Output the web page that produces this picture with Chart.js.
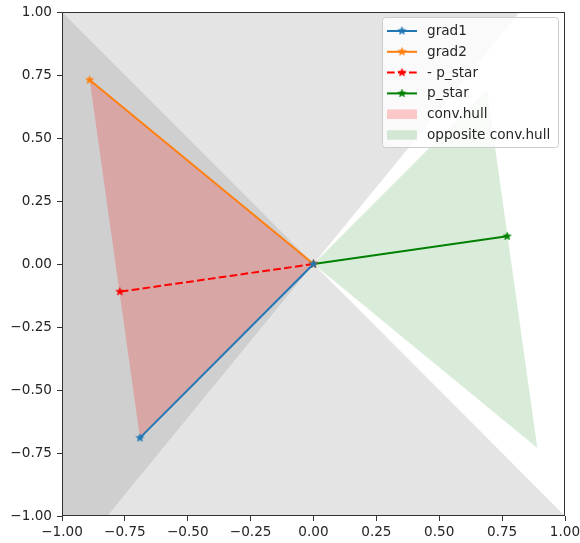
<!DOCTYPE html>
<html>
<head>
<meta charset="utf-8">
<script src="https://cdn.jsdelivr.net/npm/chart.js@4.4.0/dist/chart.umd.min.js"></script>
<style>
  html, body { margin: 0; padding: 0; background: #fff; }
  #wrap { width: 580px; height: 543px; }
</style>
</head>
<body>
<div id="wrap"><canvas id="hullChart"></canvas></div>
<script>
// vectors (x, y)
const origin = [0, 0];
const grad1 = [-0.69, -0.69];
const grad2 = [-0.89, 0.73];
const negPStar = [-0.77, -0.11];
const pStar = [0.77, 0.11];

// convex hull of the two gradients and its mirror image
const convHull = [[0, 0], [-0.69, -0.69], [-0.89, 0.73]];
const oppositeHull = [[0, 0], [0.69, 0.69], [0.89, -0.73]];

// half planes where each gradient points (clipped to the box)
const halfPlane1 = [[-1, 1], [1, -1], [-1, -1]];
const halfPlane2 = [[-1, 1], [0.82, 1], [-0.82, -1], [-1, -1]];

const axisTicks = [-1.0, -0.75, -0.5, -0.25, 0.0, 0.25, 0.5, 0.75, 1.0];

const FONT = 'DejaVu Sans';
const FONT_SIZE = 13.6;

function toPoints(list) {
    return list.map(([x, y]) => ({ x, y }));
}

// small filled star like matplotlib's '*' marker
function makeStar(color, r) {
    const size = Math.ceil(r * 2 + 3);
    const c = document.createElement('canvas');
    c.width = size; c.height = size;
    const g = c.getContext('2d');
    const cx = size / 2, cy = size / 2;
    g.beginPath();
    for (let i = 0; i < 10; i++) {
        const rad = i % 2 === 0 ? r : r * 0.382;
        const a = -Math.PI / 2 + i * Math.PI / 5;
        g.lineTo(cx + rad * Math.cos(a), cy + rad * Math.sin(a));
    }
    g.closePath();
    g.fillStyle = color;
    g.fill();
    g.lineWidth = 1;
    g.strokeStyle = color;
    g.stroke();
    return c;
}

function fmtTick(v) {
    return (v < 0 ? '\u2212' : '') + Math.abs(v).toFixed(2);
}

function lineSet(label, pts, color, dash) {
    const star = makeStar(color, 4.0);
    return {
        label, data: toPoints(pts),
        borderColor: color, backgroundColor: color,
        borderWidth: 2, borderDash: dash || [],
        pointStyle: star, pointRadius: 4,
        fill: false, tension: 0,
        legendKind: 'line'
    };
}

function areaSet(label, pts, color) {
    return {
        label, data: toPoints(pts),
        borderColor: 'transparent', backgroundColor: color,
        borderWidth: 0, pointRadius: 0,
        fill: 'shape', tension: 0,
        legendKind: label ? 'patch' : null
    };
}

const datasets = [
    lineSet('grad1', [origin, grad1], '#1f77b4'),
    lineSet('grad2', [origin, grad2], '#ff7f0e'),
    lineSet('- p_star', [origin, negPStar], '#ff0000', [7.7, 3.3]),
    lineSet('p_star', [origin, pStar], '#008000'),
    areaSet('conv.hull', convHull, 'rgba(255, 0, 0, 0.2)'),
    areaSet('opposite conv.hull', oppositeHull, 'rgba(0, 128, 0, 0.15)'),
    areaSet('', halfPlane1, 'rgba(128, 128, 128, 0.21)'),
    areaSet('', halfPlane2, 'rgba(128, 128, 128, 0.21)')
];

// frame around the plot and a legend box inside the upper right corner
const frameAndLegend = {
    id: 'frameAndLegend',
    afterDatasetsDraw(chart) {
        const ctx = chart.ctx;
        const a = chart.chartArea;
        ctx.save();
        ctx.strokeStyle = '#333';
        ctx.lineWidth = 1;
        ctx.strokeRect(Math.round(a.left) + 0.5, Math.round(a.top) + 0.5,
                       Math.round(a.right - a.left) - 1, Math.round(a.bottom - a.top) - 1);

        const entries = chart.data.datasets.filter(d => d.legendKind);
        const boxW = 176, boxH = 130;
        const bx = a.right - 7 - boxW, by = a.top + 5;
        ctx.beginPath();
        ctx.roundRect(bx + 0.5, by + 0.5, boxW, boxH, 3);
        ctx.fillStyle = 'rgba(255, 255, 255, 0.8)';
        ctx.fill();
        ctx.strokeStyle = '#cccccc';
        ctx.stroke();

        ctx.font = FONT_SIZE + 'px "' + FONT + '"';
        ctx.textBaseline = 'middle';
        entries.forEach((d, i) => {
            const y = by + 14 + i * 20.8;
            const x0 = bx + 5, x1 = bx + 35;
            if (d.legendKind === 'line') {
                ctx.setLineDash(d.borderDash);
                ctx.strokeStyle = d.borderColor;
                ctx.lineWidth = 2;
                ctx.beginPath();
                ctx.moveTo(x0, y);
                ctx.lineTo(x1, y);
                ctx.stroke();
                ctx.setLineDash([]);
                const s = d.pointStyle;
                ctx.drawImage(s, (x0 + x1) / 2 - s.width / 2, y - s.height / 2);
            } else {
                ctx.fillStyle = d.backgroundColor;
                ctx.fillRect(x0, y - 4.8, x1 - x0, 9.6);
            }
            ctx.fillStyle = '#262626';
            ctx.fillText(d.label, bx + 45, y + 0.5);
        });
        ctx.restore();
    }
};

function axisOpts(fitSize, isX) {
    return {
        type: 'linear',
        min: -1, max: 1,
        afterBuildTicks: axis => { axis.ticks = axisTicks.map(v => ({ value: v })); },
        afterFit: scale => {
            if (isX) scale.height = fitSize; else scale.width = fitSize;
            // keep the plot box fixed; edge labels may hang into the padding
            scale.paddingLeft = 0; scale.paddingRight = 0;
            scale.paddingTop = 0; scale.paddingBottom = 0;
        },
        ticks: {
            callback: v => fmtTick(v),
            font: { family: FONT, size: FONT_SIZE },
            color: '#262626',
            padding: isX ? 3 : 5,
            maxRotation: 0,
            autoSkip: false
        },
        grid: { drawOnChartArea: false, drawTicks: true, tickLength: 5, color: '#333', lineWidth: 1 },
        border: { display: false }
    };
}

new Chart(document.getElementById('hullChart'), {
    type: 'line',
    data: { datasets },
    options: {
        responsive: true,
        maintainAspectRatio: false,
        animation: false,
        devicePixelRatio: 1,
        layout: { padding: { left: 0, top: 12, right: 15, bottom: 0 } },
        scales: {
            x: axisOpts(27, true),
            y: axisOpts(62, false)
        },
        plugins: {
            legend: { display: false },
            tooltip: { enabled: false }
        }
    },
    plugins: [frameAndLegend]
});
</script>
</body>
</html>
